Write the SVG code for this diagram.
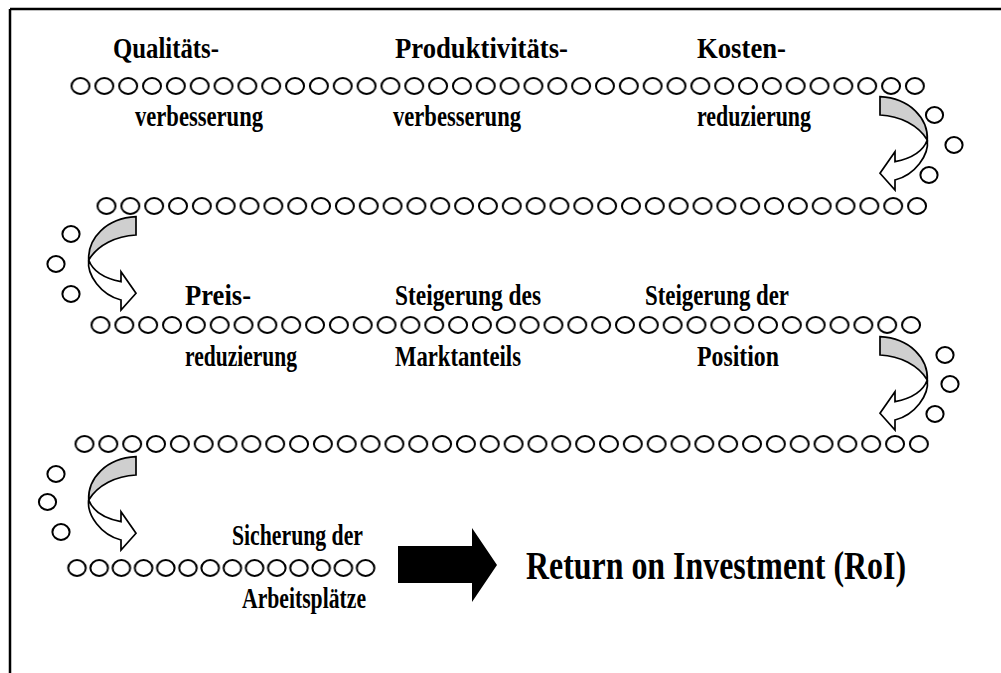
<svg xmlns="http://www.w3.org/2000/svg" xmlns:xlink="http://www.w3.org/1999/xlink" width="1001" height="673" viewBox="0 0 1001 673">
  <style>
    .lbl { font-family: "Liberation Serif", "Times New Roman", serif; font-weight: bold; font-size: 29.5px; fill: #000; }
    .big { font-family: "Liberation Serif", "Times New Roman", serif; font-weight: bold; font-size: 40px; fill: #000; }
    .dot { fill: none; stroke: #000; stroke-width: 2; }
    .rib { stroke: #000; stroke-width: 1.7; stroke-linejoin: miter; }
  </style>
  <defs>
    <pattern id="dots" patternUnits="userSpaceOnUse" x="0" y="0" width="23.84" height="20">
      <ellipse class="dot" cx="11.92" cy="10" rx="9" ry="7.9"/>
    </pattern>
    <pattern id="dots5" patternUnits="userSpaceOnUse" x="0" y="0" width="22.2" height="20">
      <ellipse class="dot" cx="11.1" cy="10" rx="8.8" ry="7.9"/>
    </pattern>
    <g id="turn">
      <path class="rib" fill="#cfcfcf" d="M0,0 C30,1.6 48.3,21.6 47.3,43.3 C38.3,28.3 20,19.3 0,18.3 Z"/>
      <path class="rib" fill="#fff" d="M47.3,43.3 C49.3,58.3 35,78.3 15,83.3 L15,93.3 L0,76.6 L15,55 L15,65 C30,62 43,55 47.3,43.3 Z"/>
    </g>
  </defs>

  <g id="frame" stroke="#000" stroke-width="2.5" fill="none">
    <line x1="10" y1="9" x2="1001" y2="9"/>
    <line x1="10" y1="9" x2="10" y2="673"/>
  </g>

  <g id="rows">
    <rect transform="translate(68.58,76)" width="858.24" height="20" fill="url(#dots)"/>
    <rect transform="translate(94.58,196)" width="834.4" height="20" fill="url(#dots)"/>
    <rect transform="translate(88.58,315)" width="834.4" height="20" fill="url(#dots)"/>
    <rect transform="translate(72.58,434)" width="858.24" height="20" fill="url(#dots)"/>
    <rect transform="translate(65.9,558)" width="310.8" height="20" fill="url(#dots5)"/>
  </g>

  <g id="side-dots">
    <ellipse class="dot" cx="934.5" cy="115" rx="8.6" ry="7.9"/>
    <ellipse class="dot" cx="954" cy="145" rx="8.6" ry="7.9"/>
    <ellipse class="dot" cx="929" cy="175" rx="8.6" ry="7.9"/>
    <ellipse class="dot" cx="71" cy="234" rx="8.6" ry="7.9"/>
    <ellipse class="dot" cx="56" cy="264" rx="8.6" ry="7.9"/>
    <ellipse class="dot" cx="71" cy="294" rx="8.6" ry="7.9"/>
    <ellipse class="dot" cx="945" cy="355" rx="8.6" ry="7.9"/>
    <ellipse class="dot" cx="950" cy="384" rx="8.6" ry="7.9"/>
    <ellipse class="dot" cx="935" cy="414" rx="8.6" ry="7.9"/>
    <ellipse class="dot" cx="56" cy="474" rx="8.6" ry="7.9"/>
    <ellipse class="dot" cx="47.5" cy="502" rx="8.6" ry="7.9"/>
    <ellipse class="dot" cx="61" cy="532" rx="8.6" ry="7.9"/>
  </g>

  <g id="connectors">
    <use href="#turn" transform="translate(880,96.7)"/>
    <use href="#turn" transform="translate(136,216.7) scale(-1,1)"/>
    <use href="#turn" transform="translate(880,336.7)"/>
    <use href="#turn" transform="translate(136,456.7) scale(-1,1)"/>
    <polygon id="roi-arrow" fill="#000" points="398,546 472,546 472,528 497,565 472,602 472,583 398,583"/>
  </g>

  <g id="n-qualitaet">
    <text class="lbl" x="113" y="58" textLength="106" lengthAdjust="spacingAndGlyphs">Qualitäts-</text>
    <text class="lbl" x="135" y="126" textLength="128" lengthAdjust="spacingAndGlyphs">verbesserung</text>
  </g>
  <g id="n-produktivitaet">
    <text class="lbl" x="395" y="58" textLength="173" lengthAdjust="spacingAndGlyphs">Produktivitäts-</text>
    <text class="lbl" x="393" y="126" textLength="128" lengthAdjust="spacingAndGlyphs">verbesserung</text>
  </g>
  <g id="n-kosten">
    <text class="lbl" x="697" y="58" textLength="89" lengthAdjust="spacingAndGlyphs">Kosten-</text>
    <text class="lbl" x="697" y="126" textLength="114" lengthAdjust="spacingAndGlyphs">reduzierung</text>
  </g>
  <g id="n-preis">
    <text class="lbl" x="185" y="305" textLength="66" lengthAdjust="spacingAndGlyphs">Preis-</text>
    <text class="lbl" x="185" y="366" textLength="112" lengthAdjust="spacingAndGlyphs">reduzierung</text>
  </g>
  <g id="n-markt">
    <text class="lbl" x="395" y="305" textLength="146" lengthAdjust="spacingAndGlyphs">Steigerung des</text>
    <text class="lbl" x="395" y="366" textLength="126" lengthAdjust="spacingAndGlyphs">Marktanteils</text>
  </g>
  <g id="n-position">
    <text class="lbl" x="645" y="305" textLength="144" lengthAdjust="spacingAndGlyphs">Steigerung der</text>
    <text class="lbl" x="697" y="366" textLength="82" lengthAdjust="spacingAndGlyphs">Position</text>
  </g>
  <g id="n-arbeit">
    <text class="lbl" x="232" y="545" textLength="131" lengthAdjust="spacingAndGlyphs">Sicherung der</text>
    <text class="lbl" x="242" y="608" textLength="124" lengthAdjust="spacingAndGlyphs">Arbeitsplätze</text>
  </g>
  <g id="n-roi">
    <text class="big" x="526" y="579" textLength="380" lengthAdjust="spacingAndGlyphs">Return on Investment (RoI)</text>
  </g>
</svg>
